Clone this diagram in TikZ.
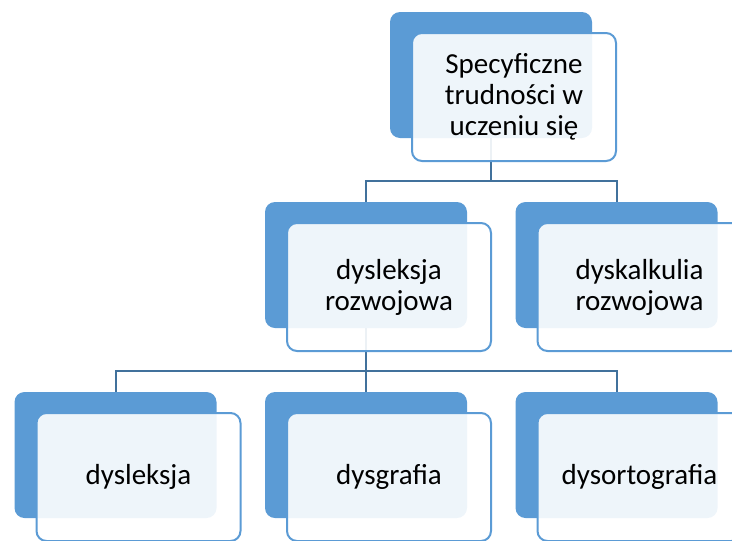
\documentclass[tikz,border=0pt]{standalone}
\usepackage{fontspec}
\setmainfont{Carlito}
\usetikzlibrary{calc}
\definecolor{smartblue}{HTML}{5B9BD5}
\definecolor{linkblue}{HTML}{41719C}
\tikzset{
	tlo/.style={fill=smartblue, rounded corners=7.5pt, minimum width=151.5pt, minimum height=94.5pt, inner sep=0pt},
	karta/.style={draw=smartblue, line width=1.5pt, fill=white, fill opacity=0.9, text opacity=1, rounded corners=7.5pt, minimum width=153pt, minimum height=96pt, inner sep=0pt, align=center, font=\fontsize{21.75}{23.25}\selectfont},
	laczenie/.style={draw=linkblue, line width=1.5pt}
}

\begin{document}
\begin{tikzpicture}[x=0.75pt, y=-0.75pt]
			\useasboundingbox (0,0) rectangle (732,540);
			\clip (0,0) rectangle (732,540);
			%%%%% START %%%%%
			
			\node[tlo] (tr-tlo) at (491, 75) {};
			\node[tlo] (dr-tlo) at (366, 265) {};
			\node[tlo] (dk-tlo) at (616.5, 265) {};
			\node[tlo] (dl-tlo) at (115.5, 455) {};
			\node[tlo] (dg-tlo) at (366, 455) {};
			\node[tlo] (ds-tlo) at (616.5, 455) {};
			
			\coordinate (szyna1) at (491, 181);
			\draw[laczenie] (tr-tlo.south) -- (szyna1) -| (dr-tlo.north);
			\draw[laczenie] (szyna1) -| (dk-tlo.north);
			
			\coordinate (szyna2) at (366, 371);
			\draw[laczenie] (dr-tlo.south) -- (szyna2) -| (dl-tlo.north);
			\draw[laczenie] (szyna2) -- (dg-tlo.north);
			\draw[laczenie] (szyna2) -| (ds-tlo.north);
			
			\node[karta] (tr) at (514, 97) {Specyficzne\\trudności w\\uczeniu się};
			\node[karta] (dr) at (389, 287) {dysleksja\\rozwojowa};
			\node[karta] (dk) at (639.5, 287) {dyskalkulia\\rozwojowa};
			\node[karta] (dl) at (138.5, 477) {dysleksja};
			\node[karta] (dg) at (389, 477) {dysgrafia};
			\node[karta] (ds) at (639.5, 477) {dysortografia};
			
			%%%%% END %%%%%
		\end{tikzpicture}
\end{document}
